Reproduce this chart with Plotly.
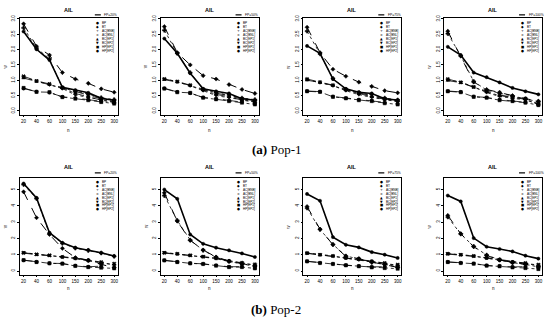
import plotly.graph_objects as go

# ---------------- data ----------------
n_values = ["20", "40", "60", "100", "150", "200", "250", "300"]
methods = ["BP", "BT", "AC[BNB]", "AC[BNL]", "BC[EP1]", "BC[EP2]", "HP[EP1]", "HP[EP2]"]
fp_labels = ["FP=20%", "FP=50%", "FP=75%", "FP=100%"]
pop_captions = ["<b>(a)</b> Pop-1", "<b>(b)</b> Pop-2"]

pop1_fp20 = [
    [2.59, 2.01, 1.66, 0.77, 0.68, 0.59, 0.41, 0.35],
    [2.84, 2.11, 1.82, 1.25, 1.04, 0.90, 0.72, 0.61],
    [2.71, 2.05, 1.70, 0.75, 0.64, 0.55, 0.43, 0.37],
    [1.13, 0.98, 0.88, 0.76, 0.62, 0.52, 0.39, 0.31],
    [1.07, 0.96, 0.86, 0.75, 0.57, 0.46, 0.35, 0.27],
    [1.10, 0.97, 0.85, 0.73, 0.52, 0.44, 0.37, 0.29],
    [0.75, 0.62, 0.61, 0.45, 0.40, 0.35, 0.29, 0.24],
    [0.73, 0.63, 0.60, 0.46, 0.42, 0.37, 0.31, 0.26],
]
pop1_fp50 = [
    [2.36, 1.88, 1.23, 0.72, 0.64, 0.57, 0.40, 0.35],
    [2.75, 1.90, 1.50, 1.15, 1.04, 0.86, 0.70, 0.57],
    [2.63, 1.88, 1.25, 0.70, 0.60, 0.52, 0.42, 0.37],
    [1.04, 0.96, 0.84, 0.70, 0.58, 0.50, 0.38, 0.31],
    [1.02, 0.94, 0.83, 0.68, 0.54, 0.46, 0.35, 0.29],
    [1.05, 0.95, 0.82, 0.66, 0.50, 0.43, 0.36, 0.30],
    [0.73, 0.61, 0.59, 0.43, 0.38, 0.32, 0.27, 0.21],
    [0.74, 0.62, 0.58, 0.44, 0.40, 0.34, 0.29, 0.23],
]
pop1_fp75 = [
    [2.12, 1.88, 1.04, 0.72, 0.61, 0.57, 0.40, 0.35],
    [2.73, 1.90, 1.36, 1.13, 0.94, 0.80, 0.66, 0.59],
    [2.60, 1.86, 1.06, 0.70, 0.58, 0.54, 0.42, 0.36],
    [1.04, 0.94, 0.84, 0.70, 0.60, 0.50, 0.39, 0.33],
    [1.00, 0.93, 0.83, 0.68, 0.57, 0.46, 0.38, 0.32],
    [1.02, 0.92, 0.82, 0.66, 0.53, 0.44, 0.37, 0.30],
    [0.64, 0.62, 0.46, 0.41, 0.35, 0.32, 0.25, 0.21],
    [0.65, 0.63, 0.47, 0.42, 0.37, 0.34, 0.27, 0.23],
]
pop1_fp100 = [
    [2.09, 1.82, 1.25, 1.10, 0.93, 0.75, 0.64, 0.54],
    [2.60, 1.79, 0.94, 0.70, 0.61, 0.50, 0.40, 0.32],
    [2.52, 1.80, 0.96, 0.68, 0.58, 0.48, 0.38, 0.30],
    [1.04, 0.93, 0.78, 0.64, 0.52, 0.45, 0.40, 0.23],
    [0.99, 0.92, 0.77, 0.62, 0.50, 0.43, 0.38, 0.21],
    [1.01, 0.94, 0.79, 0.60, 0.47, 0.41, 0.36, 0.22],
    [0.64, 0.61, 0.46, 0.43, 0.35, 0.32, 0.27, 0.19],
    [0.65, 0.62, 0.47, 0.44, 0.37, 0.33, 0.28, 0.20],
]
pop2_fp20 = [
    [5.37, 4.49, 2.35, 1.73, 1.43, 1.29, 1.12, 0.92],
    [4.86, 3.27, 2.24, 1.39, 0.82, 0.65, 0.41, 0.20],
    [5.31, 4.45, 2.30, 1.70, 1.40, 1.26, 1.10, 0.90],
    [1.12, 1.02, 0.96, 0.86, 0.78, 0.65, 0.55, 0.45],
    [1.10, 1.00, 0.95, 0.88, 0.80, 0.68, 0.50, 0.40],
    [1.13, 1.03, 0.97, 0.85, 0.76, 0.62, 0.48, 0.38],
    [0.67, 0.55, 0.47, 0.45, 0.31, 0.24, 0.20, 0.16],
    [0.66, 0.56, 0.48, 0.46, 0.33, 0.26, 0.30, 0.22],
]
pop2_fp50 = [
    [5.00, 4.43, 2.24, 1.67, 1.43, 1.27, 1.08, 0.86],
    [4.80, 3.06, 1.88, 1.29, 0.86, 0.61, 0.45, 0.31],
    [4.63, 3.10, 1.90, 1.27, 0.84, 0.59, 0.43, 0.29],
    [1.12, 1.06, 0.96, 0.88, 0.78, 0.61, 0.51, 0.41],
    [1.10, 1.04, 0.95, 0.86, 0.80, 0.64, 0.48, 0.38],
    [1.14, 1.05, 0.97, 0.89, 0.76, 0.58, 0.46, 0.36],
    [0.65, 0.55, 0.47, 0.43, 0.33, 0.24, 0.24, 0.16],
    [0.66, 0.56, 0.48, 0.44, 0.35, 0.26, 0.27, 0.18],
]
pop2_fp75 = [
    [4.73, 4.31, 2.08, 1.61, 1.45, 1.16, 1.00, 0.80],
    [3.96, 2.57, 1.61, 0.90, 0.76, 0.55, 0.39, 0.22],
    [3.86, 2.55, 1.63, 0.92, 0.74, 0.53, 0.41, 0.25],
    [1.10, 1.00, 0.92, 0.80, 0.73, 0.59, 0.49, 0.39],
    [1.08, 0.98, 0.91, 0.82, 0.71, 0.61, 0.46, 0.36],
    [1.11, 1.01, 0.93, 0.78, 0.69, 0.56, 0.44, 0.34],
    [0.59, 0.49, 0.43, 0.35, 0.29, 0.22, 0.18, 0.14],
    [0.60, 0.50, 0.44, 0.36, 0.31, 0.25, 0.27, 0.20],
]
pop2_fp100 = [
    [4.63, 4.27, 2.02, 1.49, 1.35, 1.20, 0.94, 0.76],
    [3.41, 2.29, 1.49, 0.96, 0.67, 0.53, 0.43, 0.27],
    [3.31, 2.27, 1.51, 0.98, 0.69, 0.51, 0.41, 0.25],
    [1.06, 1.00, 0.92, 0.80, 0.69, 0.55, 0.49, 0.39],
    [1.04, 0.98, 0.90, 0.82, 0.71, 0.58, 0.46, 0.36],
    [1.07, 1.01, 0.93, 0.78, 0.67, 0.52, 0.44, 0.34],
    [0.55, 0.49, 0.45, 0.33, 0.29, 0.22, 0.18, 0.12],
    [0.56, 0.50, 0.46, 0.34, 0.31, 0.25, 0.27, 0.18],
]

panels = [pop1_fp20, pop1_fp50, pop1_fp75, pop1_fp100,
          pop2_fp20, pop2_fp50, pop2_fp75, pop2_fp100]

# ---------------- styling ----------------
W, H = 550, 322
dashes = ["solid", "dash", "dot", "dash", "dashdot", "dot", "dashdot", "longdash"]
widths = [1.6, 1.0, 0.8, 0.8, 0.8, 0.8, 0.8, 0.8]
symbols = ["circle", "diamond", "cross", "x", "triangle-up", "triangle-down", "square", "circle"]
glyphs = ["●", "◆", "+", "×", "▲", "▼", "■", "●"]

box_lefts = [20, 161, 304, 445]
box_w = 98
rows = [
    dict(top=14.5, bottom=112, yrange=[-0.12, 3.02],
         ticks=[0, 0.5, 1.0, 1.5, 2.0, 2.5, 3.0],
         ticktext=["0.0", "0.5", "1.0", "1.5", "2.0", "2.5", "3.0"],
         title_y=6, fp_y=11, leg_y=19.5, n_y=128, cap_y=147),
    dict(top=176, bottom=274, yrange=[-0.22, 5.72],
         ticks=[0, 1, 2, 3, 4, 5],
         ticktext=["0", "1", "2", "3", "4", "5"],
         title_y=165, fp_y=171, leg_y=180, n_y=288, cap_y=309),
]

FONT = "Liberation Sans"


def px_x(x):
    return x / W


def px_y(y):
    return 1 - y / H


fig = go.Figure()
annotations = []
shapes = []

for p, series in enumerate(panels):
    r = p // 4
    c = p % 4
    row = rows[r]
    left = box_lefts[c]
    right = left + box_w
    ax = "" if p == 0 else str(p + 1)
    for s, vals in enumerate(series):
        fig.add_trace(go.Scatter(
            x=n_values, y=vals, mode="lines+markers",
            xaxis="x" + ax, yaxis="y" + ax, showlegend=False,
            line=dict(color="black", width=widths[s], dash=dashes[s]),
            marker=dict(symbol=symbols[s], size=3.2, color="black",
                        line=dict(color="black", width=0.5)),
            name=methods[s],
        ))
    fig.update_layout(**{
        "xaxis" + ax: dict(
            domain=[px_x(left), px_x(right)], anchor="y" + ax,
            type="category", range=[-0.28, 7.28],
            showline=True, mirror=True, linecolor="black", linewidth=0.6,
            ticks="outside", ticklen=2, tickwidth=0.5, tickcolor="black",
            tickfont=dict(size=4.5, color="black", family=FONT),
            showgrid=False, zeroline=False,
        ),
        "yaxis" + ax: dict(
            domain=[px_y(row["bottom"]), px_y(row["top"])], anchor="x" + ax,
            range=row["yrange"], tickvals=row["ticks"], ticktext=row["ticktext"],
            tickangle=-90,
            showline=True, mirror=True, linecolor="black", linewidth=0.6,
            ticks="outside", ticklen=2, tickwidth=0.5, tickcolor="black",
            tickfont=dict(size=4.5, color="black", family=FONT),
            showgrid=False, zeroline=False,
        ),
    })
    cx = (left + right) / 2
    annotations.append(dict(text="<b>AIL</b>", x=px_x(cx), y=px_y(row["title_y"]),
                            xref="paper", yref="paper", showarrow=False,
                            font=dict(size=5.5, family=FONT, color="black"),
                            xanchor="center", yanchor="middle"))
    shapes.append(dict(type="line", xref="paper", yref="paper",
                       x0=px_x(right - 23), x1=px_x(right - 17),
                       y0=px_y(row["fp_y"]), y1=px_y(row["fp_y"]),
                       line=dict(color="black", width=1.2)))
    annotations.append(dict(text=fp_labels[c], x=px_x(right - 15.5), y=px_y(row["fp_y"]),
                            xref="paper", yref="paper", showarrow=False,
                            font=dict(size=3.3, family=FONT, color="black"),
                            xanchor="left", yanchor="middle"))
    for s, m in enumerate(methods):
        yy = row["leg_y"] + 4.0 * s
        annotations.append(dict(text=glyphs[s], x=px_x(right - 20), y=px_y(yy),
                                xref="paper", yref="paper", showarrow=False,
                                font=dict(size=3.4, family="DejaVu Sans", color="black"),
                                xanchor="center", yanchor="middle"))
        annotations.append(dict(text=m, x=px_x(right - 17.5), y=px_y(yy),
                                xref="paper", yref="paper", showarrow=False,
                                font=dict(size=3.1, family=FONT, color="black"),
                                xanchor="left", yanchor="middle"))
    annotations.append(dict(text="n", x=px_x(cx), y=px_y(row["n_y"]),
                            xref="paper", yref="paper", showarrow=False,
                            font=dict(size=4.5, family=FONT, color="black"),
                            xanchor="center", yanchor="middle"))
    annotations.append(dict(text="w", x=px_x(left - 15), y=px_y((row["top"] + row["bottom"]) / 2),
                            xref="paper", yref="paper", showarrow=False, textangle=-90,
                            font=dict(size=4.5, family=FONT, color="black"),
                            xanchor="center", yanchor="middle"))

for r, row in enumerate(rows):
    annotations.append(dict(text=pop_captions[r], x=px_x(277), y=px_y(row["cap_y"]),
                            xref="paper", yref="paper", showarrow=False,
                            font=dict(size=13, family="Liberation Serif", color="black"),
                            xanchor="center", yanchor="middle"))

fig.update_layout(width=W, height=H, margin=dict(l=0, r=0, t=0, b=0),
                  paper_bgcolor="white", plot_bgcolor="white",
                  annotations=annotations, shapes=shapes, showlegend=False)

fig.write_html("out.html", config={"displayModeBar": False},
               post_script="document.body.style.margin='0';document.body.style.padding='0';")
